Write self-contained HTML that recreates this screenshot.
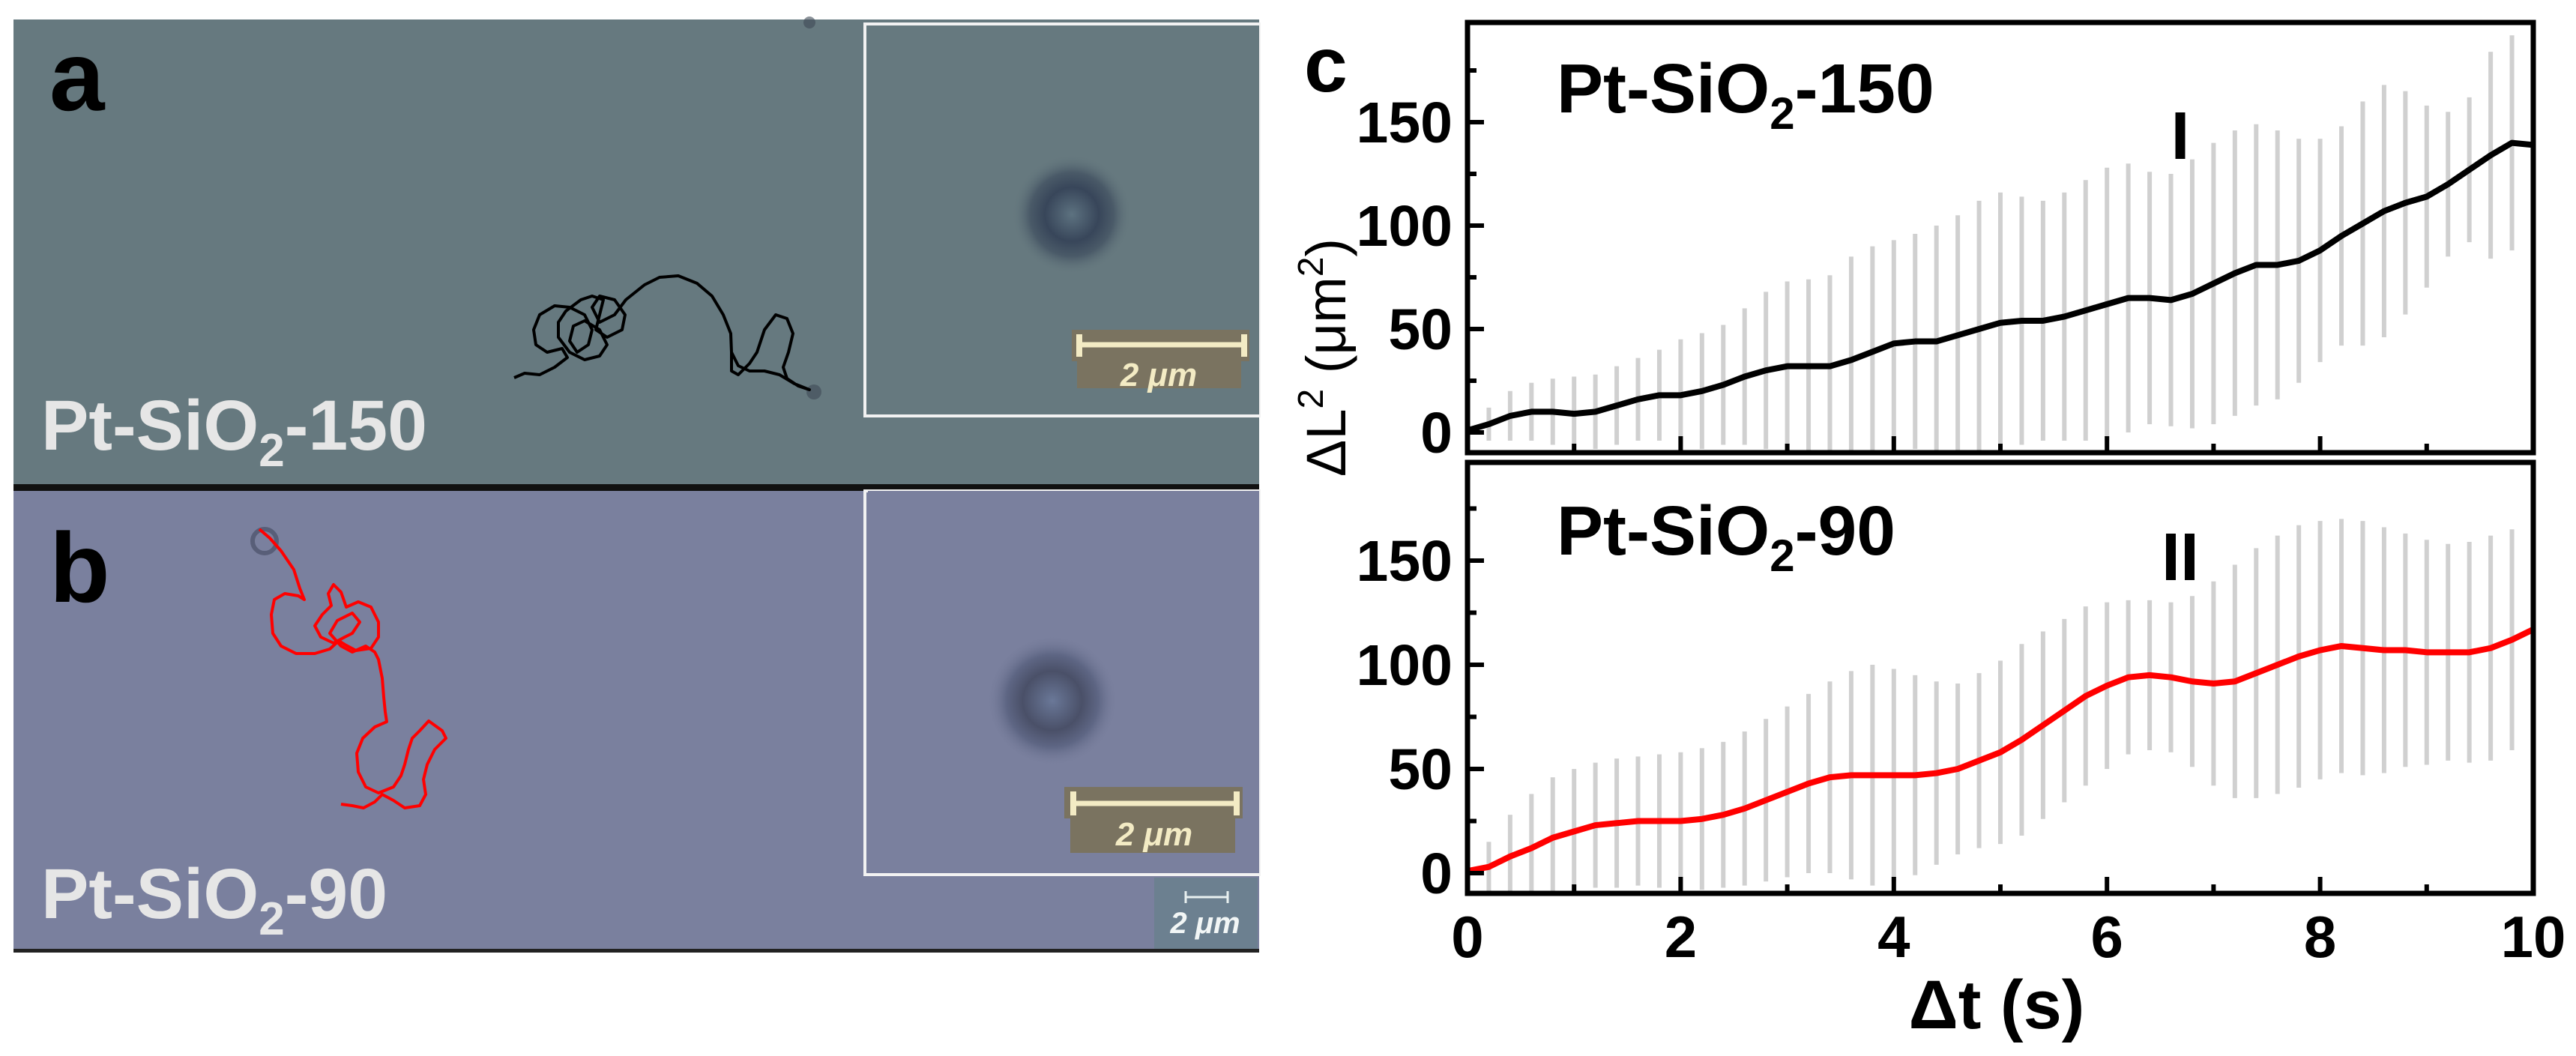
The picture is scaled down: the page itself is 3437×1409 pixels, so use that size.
<!DOCTYPE html>
<html><head><meta charset="utf-8"><style>
html,body{margin:0;padding:0;background:#fff;}
svg{display:block;font-family:"Liberation Sans",Arial,sans-serif;}
</style></head><body>
<svg id="fig" width="3437" height="1409" viewBox="0 0 3437 1409" xmlns="http://www.w3.org/2000/svg">
<defs>
<radialGradient id="pa" cx="50%" cy="50%" r="50%"><stop offset="0" stop-color="#5d7280"/><stop offset="0.45" stop-color="#38465a"/><stop offset="0.7" stop-color="#4a5a68"/><stop offset="1" stop-color="#66797f" stop-opacity="0"/></radialGradient>
<radialGradient id="pb" cx="50%" cy="50%" r="50%"><stop offset="0" stop-color="#6a7898"/><stop offset="0.45" stop-color="#4a5068"/><stop offset="0.7" stop-color="#5e6684"/><stop offset="1" stop-color="#7a809e" stop-opacity="0"/></radialGradient>
<clipPath id="clipTop"><rect x="1958" y="30" width="1422" height="574"/></clipPath>
<clipPath id="clipBot"><rect x="1958" y="617" width="1422" height="575"/></clipPath>
</defs>

<!-- Panel a -->
<g>
<rect x="18" y="26" width="1662" height="624" fill="#66797f"/>
<circle cx="1080" cy="30" r="8" fill="#3d4a55" opacity="0.6"/>
<circle cx="1086" cy="523" r="10" fill="#3d4a55" opacity="0.6"/>
<polyline fill="none" stroke="#000" stroke-width="4" stroke-linejoin="round"
points="686,504 700,498 720,500 740,490 757,477 750,465 730,470 715,460 712,440 720,420 740,408 760,410 780,420 790,440 785,460 770,470 760,455 765,435 780,428 800,440 810,460 800,475 780,480 760,470 745,450 745,430 755,415 775,400 790,395 805,400 800,420 795,440 810,450 830,440 834,420 820,400 800,395 790,410 800,430 820,420 835,400 860,380 880,370 905,368 930,378 950,395 965,420 975,445 976,470 976,495 985,500 1000,485 1010,470 1020,440 1035,420 1050,425 1058,445 1052,470 1045,490 1050,505 1065,515 1080,520 1060,512 1040,500 1020,495 1000,495 985,488 976,470"/>
<rect x="1154" y="32" width="526" height="523" fill="none" stroke="#f2f2f2" stroke-width="4"/>
<rect x="1158" y="34" width="522" height="519" fill="#66797f"/>
<circle cx="1430" cy="286" r="80" fill="url(#pa)"/>
<g>
<rect x="1430" y="440" width="237" height="42" fill="#7a7360"/>
<rect x="1437" y="482" width="219" height="36" fill="#7a7360"/>
<line x1="1440" y1="460" x2="1660" y2="460" stroke="#f3ebc4" stroke-width="7"/>
<line x1="1440" y1="446" x2="1440" y2="476" stroke="#f3ebc4" stroke-width="8"/>
<line x1="1660" y1="446" x2="1660" y2="476" stroke="#f3ebc4" stroke-width="8"/>
<text x="1546" y="515" text-anchor="middle" font-size="44" font-weight="bold" font-style="italic" fill="#f3ebc4">2 μm</text>
</g>
<text x="66" y="147" font-size="132" font-weight="bold" fill="#000">a</text>
<text x="55" y="600" font-size="95" font-weight="bold" fill="#e6e6e6">Pt-SiO<tspan font-size="62" dy="22">2</tspan><tspan dy="-22">-150</tspan></text>
</g>

<rect x="18" y="646" width="1662" height="9" fill="#111"/>

<!-- Panel b -->
<g>
<rect x="18" y="655" width="1662" height="612" fill="#7a809e"/>
<rect x="18" y="1266" width="1662" height="5" fill="#222"/>
<circle cx="353" cy="722" r="16" fill="none" stroke="#4a5068" stroke-width="6" opacity="0.7"/>
<polyline fill="none" stroke="#ff0000" stroke-width="4" stroke-linejoin="round"
points="346,706 360,718 375,735 392,760 400,785 406,800 398,795 380,792 366,800 362,820 364,845 375,862 395,872 420,872 440,866 452,855 460,860 475,868 495,865 505,850 505,830 495,810 478,803 462,810 455,790 445,780 438,792 442,808 430,820 420,835 428,850 445,858 460,850 470,845 480,830 470,818 450,828 440,845 455,862 470,870 488,862 500,870 505,880 510,905 512,930 514,950 516,963 500,970 484,985 476,1005 478,1030 488,1050 505,1058 525,1050 535,1035 540,1020 545,1000 550,985 560,975 572,962 590,975 595,985 580,1000 570,1020 565,1040 568,1060 560,1075 540,1078 525,1068 510,1060 500,1070 485,1078 470,1075 455,1073"/>
<rect x="1154" y="655" width="526" height="512" fill="none" stroke="#f2f2f2" stroke-width="4"/>
<rect x="1158" y="655" width="522" height="510" fill="#7a809e"/>
<circle cx="1404" cy="935" r="88" fill="url(#pb)"/>
<g>
<rect x="1420" y="1050" width="238" height="42" fill="#7a7360"/>
<rect x="1428" y="1092" width="220" height="46" fill="#7a7360"/>
<line x1="1432" y1="1072" x2="1650" y2="1072" stroke="#f3ebc4" stroke-width="7"/>
<line x1="1432" y1="1056" x2="1432" y2="1088" stroke="#f3ebc4" stroke-width="8"/>
<line x1="1650" y1="1056" x2="1650" y2="1088" stroke="#f3ebc4" stroke-width="8"/>
<text x="1540" y="1128" text-anchor="middle" font-size="44" font-weight="bold" font-style="italic" fill="#f3ebc4">2 μm</text>
</g>
<g>
<rect x="1540" y="1171" width="138" height="95" fill="#6c8090"/>
<line x1="1582" y1="1197" x2="1638" y2="1197" stroke="#e8f0f0" stroke-width="3"/>
<line x1="1582" y1="1189" x2="1582" y2="1205" stroke="#e8f0f0" stroke-width="3"/>
<line x1="1638" y1="1189" x2="1638" y2="1205" stroke="#e8f0f0" stroke-width="3"/>
<text x="1608" y="1245" text-anchor="middle" font-size="40" font-weight="bold" font-style="italic" fill="#f2f6f6">2 μm</text>
</g>
<text x="66" y="803" font-size="132" font-weight="bold" fill="#000">b</text>
<text x="55" y="1225" font-size="95" font-weight="bold" fill="#e6e6e6">Pt-SiO<tspan font-size="62" dy="22">2</tspan><tspan dy="-22">-90</tspan></text>
</g>

<!-- Panel c -->
<text x="1740" y="122" font-size="104" font-weight="bold" fill="#000">c</text>
<text transform="translate(1795,477) rotate(-90)" text-anchor="middle" font-size="74" fill="#000">ΔL<tspan font-size="48" dy="-30">2</tspan><tspan dy="30"> (μm</tspan><tspan font-size="48" dy="-30">2</tspan><tspan dy="30">)</tspan></text>
<g id="chart"></g>
<text x="2664" y="1372" text-anchor="middle" font-size="92" font-weight="bold" fill="#000">Δt (s)</text>
<text x="2077" y="150" font-size="93" font-weight="bold" fill="#000">Pt-SiO<tspan font-size="60" dy="22">2</tspan><tspan dy="-22">-150</tspan></text>
<text x="2077" y="740" font-size="93" font-weight="bold" fill="#000">Pt-SiO<tspan font-size="60" dy="22">2</tspan><tspan dy="-22">-90</tspan></text>
<text x="2909" y="212" text-anchor="middle" font-size="90" font-weight="bold" fill="#000">I</text>
<text x="2909" y="774" text-anchor="middle" font-size="90" font-weight="bold" fill="#000">II</text>
</svg>
<script>
const times = [0,0.2,0.4,0.6,0.8,1.0,1.2,1.4,1.6,1.8,2.0,2.2,2.4,2.6,2.8,3.0,3.2,3.4,3.6,3.8,4.0,4.2,4.4,4.6,4.8,5.0,5.2,5.4,5.6,5.8,6.0,6.2,6.4,6.6,6.8,7.0,7.2,7.4,7.6,7.8,8.0,8.2,8.4,8.6,8.8,9.0,9.2,9.4,9.6,9.8,10];
const meanI = [1,4,8,10,10,9,10,13,16,18,18,20,23,27,30,32,32,32,35,39,43,44,44,47,50,53,54,54,56,59,62,65,65,64,67,72,77,81,81,83,88,95,101,107,111,114,120,127,134,140,139];
const sdI = [2,8,12,14,16,18,18,19,20,22,27,28,29,33,38,41,42,44,50,51,50,52,56,58,62,63,60,58,60,63,66,65,61,61,65,68,69,68,65,59,54,53,59,61,54,44,35,35,50,52,51];
const meanII = [1,3,8,12,17,20,23,24,25,25,25,26,28,31,35,39,43,46,47,47,47,47,48,50,54,58,64,71,78,85,90,94,95,94,92,91,92,96,100,104,107,109,108,107,107,106,106,106,108,112,117];
const sdII = [2,12,20,26,29,30,30,31,31,32,33,34,35,37,39,41,43,46,50,53,51,48,44,41,42,44,46,45,44,43,40,37,36,36,41,49,56,60,62,63,62,61,61,59,56,54,52,53,54,53,50];
const xTicks = [0,2,4,6,8,10];
const yTicks = [0,50,100,150];

const NS = 'http://www.w3.org/2000/svg';
const chart = document.getElementById('chart');
const X0 = 1958, X1 = 3380;
function xScale(t){ return X0 + (t/10)*(X1-X0); }
const panels = [
  {top:30, bottom:604, zeroY:577, pxPer:2.76, mean:meanI, sd:sdI, color:'#000000', clip:'url(#clipTop)', key:'I', labels:false},
  {top:617, bottom:1192, zeroY:1165, pxPer:2.78, mean:meanII, sd:sdII, color:'#ff0000', clip:'url(#clipBot)', key:'II', labels:true}
];
function mk(tag, attrs){ const e=document.createElementNS(NS,tag); for(const k in attrs) e.setAttribute(k, attrs[k]); return e; }

panels.forEach(p => {
  const yScale = v => p.zeroY - v*p.pxPer;
  const g = mk('g', {'clip-path': p.clip});
  
  
  chart.appendChild(g);
  times.forEach((t,i) => {
    const ln = mk('line', {x1:xScale(t), x2:xScale(t), y1:yScale(p.mean[i]-p.sd[i]), y2:yScale(p.mean[i]+p.sd[i]), stroke:'#d0d0d0', 'stroke-width':6});
    
    
    g.appendChild(ln);
  });
  const pts = times.map((t,i) => xScale(t)+','+yScale(p.mean[i])).join(' ');
  const pl = mk('polyline', {points:pts, fill:'none', stroke:p.color, 'stroke-width':8, 'stroke-linejoin':'round'});
  
  
  g.appendChild(pl);
  const fr = mk('rect', {x:X0, y:p.top, width:X1-X0, height:p.bottom-p.top, fill:'none', stroke:'#000', 'stroke-width':7});
  
  
  chart.appendChild(fr);
  for (let v=0; v<=175; v+=25){
    const y = yScale(v);
    if (y < p.top+5) continue;
    const major = v % 50 === 0;
    const tk = mk('line', {x1:X0, x2:X0+(major?22:12), y1:y, y2:y, stroke:'#000', 'stroke-width':6});
    
    
    chart.appendChild(tk);
  }
  yTicks.forEach(v => {
    const tx = mk('text', {x:1938, y:yScale(v)+27, 'text-anchor':'end', 'font-size':77, 'font-weight':'bold', fill:'#000'});
    tx.textContent = v;
    
    
    chart.appendChild(tx);
  });
  for (let t=1; t<10; t+=1){
    const major = t % 2 === 0;
    const tk = mk('line', {x1:xScale(t), x2:xScale(t), y1:p.bottom, y2:p.bottom-(major?22:12), stroke:'#000', 'stroke-width':6});
    
    
    chart.appendChild(tk);
  }
  if (p.labels){
    xTicks.forEach(t => {
      const tx = mk('text', {x:xScale(t), y:1277, 'text-anchor':'middle', 'font-size':78, 'font-weight':'bold', fill:'#000'});
      tx.textContent = t;
      
      
      chart.appendChild(tx);
    });
  }
});
</script>
</body></html>
